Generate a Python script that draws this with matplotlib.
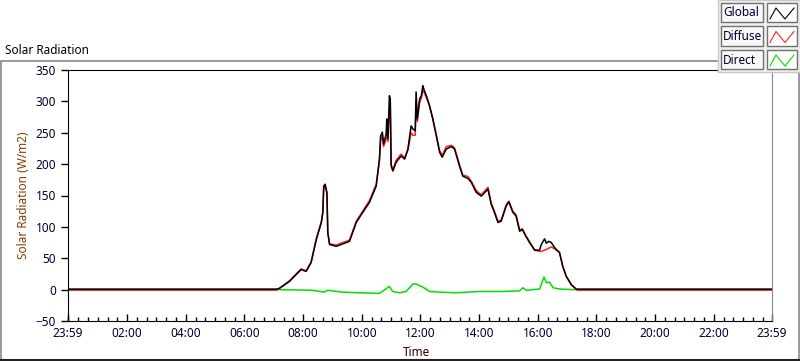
import matplotlib.pyplot as plt
from matplotlib.patches import Rectangle
from matplotlib.ticker import FixedLocator, MultipleLocator

# ---------------------------
# Data (time in hours of day, values in W/m2)
# ---------------------------
global_t = [-0.017, 7.09, 7.19, 7.53, 7.93, 8.10, 8.27, 8.45, 8.62, 8.67, 8.70, 8.75, 8.81, 8.84,
            8.90, 9.13, 9.58, 9.81, 10.03, 10.26, 10.49, 10.60, 10.64, 10.70, 10.74, 10.83, 10.85,
            10.89, 10.94, 10.97, 11.00, 11.06, 11.17, 11.34, 11.46, 11.57, 11.68, 11.74, 11.82,
            11.85, 11.89, 11.97, 12.03, 12.08, 12.11, 12.20, 12.31, 12.42, 12.54, 12.65, 12.74,
            12.88, 13.05, 13.16, 13.33, 13.44, 13.62, 13.73, 13.90, 14.07, 14.30, 14.41, 14.52,
            14.64, 14.75, 14.92, 15.01, 15.15, 15.26, 15.38, 15.47, 15.58, 15.72, 15.89, 16.06,
            16.12, 16.23, 16.29, 16.37, 16.46, 16.57, 16.74, 16.85, 16.97, 17.14, 17.31, 17.35, 23.983]
global_v = [0.8, 0.8, 2, 13, 32, 29, 43, 80, 107, 123, 165, 168, 155, 91,
            72, 69, 77, 107, 123, 139, 165, 208, 245, 251, 232, 248, 272,
            240, 309, 304, 197, 189, 203, 213, 208, 224, 261, 256, 253,
            315, 272, 304, 309, 325, 320, 309, 293, 272, 245, 219, 211,
            224, 228, 224, 197, 181, 177, 171, 155, 149, 160, 136, 123,
            107, 109, 133, 140, 123, 117, 93, 96, 86, 75, 63, 63,
            72, 81, 74, 77, 75, 67, 59, 37, 21, 8, 1, 0.8, 0.8]
diffuse_v = [-0.8, -0.8, 2, 14, 33, 30, 44, 82, 108, 124, 160, 165, 152, 90,
             73, 71, 79, 109, 125, 142, 168, 206, 238, 246, 228, 240, 258,
             236, 290, 292, 199, 192, 206, 216, 210, 222, 250, 246, 246,
             300, 268, 298, 305, 318, 316, 306, 292, 272, 246, 222, 214,
             228, 230, 226, 199, 183, 180, 173, 158, 151, 163, 138, 125,
             109, 111, 135, 141, 125, 119, 95, 97, 87, 76, 63, 61,
             61, 63, 64, 66, 68, 65, 59, 37, 21, 8, 0, -0.8, -0.8]

direct_t = [-0.017, 7.09, 8.32, 8.73, 8.83, 9.34, 9.92, 10.60, 10.94, 11.05, 11.29, 11.51, 11.74,
            11.85, 12.08, 12.31, 12.65, 13.22, 14.01, 14.69, 15.38, 15.49, 15.61, 16.06, 16.21,
            16.29, 16.40, 16.52, 16.74, 17.19, 17.42, 23.983]
direct_v = [0, 0, -1, -4, -1, -4, -5, -6, 5, -3, -5, -3, 9,
            9, 4, -3, -4, -5, -3, -3, -2, 3, -1, 1, 20,
            11, 12, 3, 1, 0, 0, 0]

tick_pos = [-0.017, 2, 4, 6, 8, 10, 12, 14, 16, 18, 20, 22, 23.983]
tick_labels = ['23:59', '02:00', '04:00', '06:00', '08:00', '10:00', '12:00',
               '14:00', '16:00', '18:00', '20:00', '22:00', '23:59']
legend_names = ['Global', 'Diffuse', 'Direct']
legend_colors = ['#000000', '#ff2020', '#00e000']

plt.rcParams['font.family'] = ['Noto Sans', 'DejaVu Sans']

fig = plt.figure(figsize=(8, 3.61), dpi=100)
W, H = 800, 361

def fx(px):
    return px / W

def fy(py):
    return 1 - py / H

# panel frame around the graph
fig.patches.append(Rectangle((fx(0.5), fy(360)), fx(798), fy(61) - fy(360), transform=fig.transFigure,
                             fill=False, edgecolor='#888888', linewidth=1.2))
fig.add_artist(plt.Line2D([fx(0), fx(800)], [fy(360), fy(360)], transform=fig.transFigure,
                          color='#222222', linewidth=1.5))
fig.text(fx(5), fy(50), 'Solar Radiation', fontsize=8.5, color='#000000', va='center', ha='left')

ax = fig.add_axes([fx(68), fy(321), fx(772 - 68), fy(70) - fy(321)])
ax.plot(direct_t, direct_v, color='#00e000', linewidth=1.1)
ax.plot(global_t, diffuse_v, color='#ff2020', linewidth=1.1)
ax.plot(global_t, global_v, color='#000000', linewidth=1.1)

ax.set_xlim(-0.017, 23.983)
ax.set_ylim(-50, 350)
ax.xaxis.set_major_locator(FixedLocator(tick_pos))
ax.set_xticklabels(tick_labels)
ax.xaxis.set_minor_locator(MultipleLocator(1 / 3))
ax.yaxis.set_major_locator(MultipleLocator(50))
ax.tick_params(axis='both', which='major', length=5, width=1, labelsize=8.5, labelcolor='#000030')
ax.tick_params(axis='x', which='minor', length=3, width=1)
ax.tick_params(axis='x', which='major', direction='in', pad=4)
ax.tick_params(axis='x', which='minor', direction='in')

ax.spines['top'].set_color('#000000')
ax.spines['left'].set_color('#000000')
ax.spines['bottom'].set_color('#000000')
ax.spines['right'].set_color('#888888')
ax.set_ylabel('Solar Radiation (W/m2)', fontsize=8.5, color='#804000', labelpad=4)
fig.text(fx(403), fy(353), 'Time', fontsize=8.5, color='#300000', va='center', ha='left')

# legend panel in the top right corner
fig.patches.append(Rectangle((fx(718), fy(72)), fx(82), fy(0) - fy(72), transform=fig.transFigure,
                             facecolor='#f0f0f0', edgecolor='#c8c8c8', linewidth=1, zorder=5))
for i, (name, col) in enumerate(zip(legend_names, legend_colors)):
    top = 3 + i * 23.5
    fig.patches.append(Rectangle((fx(721), fy(top + 19)), fx(42), fy(top) - fy(top + 19),
                                 transform=fig.transFigure, facecolor='#f8f8f8',
                                 edgecolor='#707070', linewidth=1, zorder=6))
    fig.text(fx(723), fy(top + 10), name, fontsize=8.5, color='#000030', va='center', ha='left', zorder=7)
    fig.patches.append(Rectangle((fx(767), fy(top + 19)), fx(30), fy(top) - fy(top + 19),
                                 transform=fig.transFigure, facecolor='#ffffff',
                                 edgecolor='#707070', linewidth=1, zorder=6))
    fig.add_artist(plt.Line2D([fx(770), fx(776), fx(785), fx(794)],
                              [fy(top + 16), fy(top + 5), fy(top + 16), fy(top + 5)],
                              transform=fig.transFigure, color=col, linewidth=0.8, zorder=7))

fig.savefig('out.png', dpi=100)
